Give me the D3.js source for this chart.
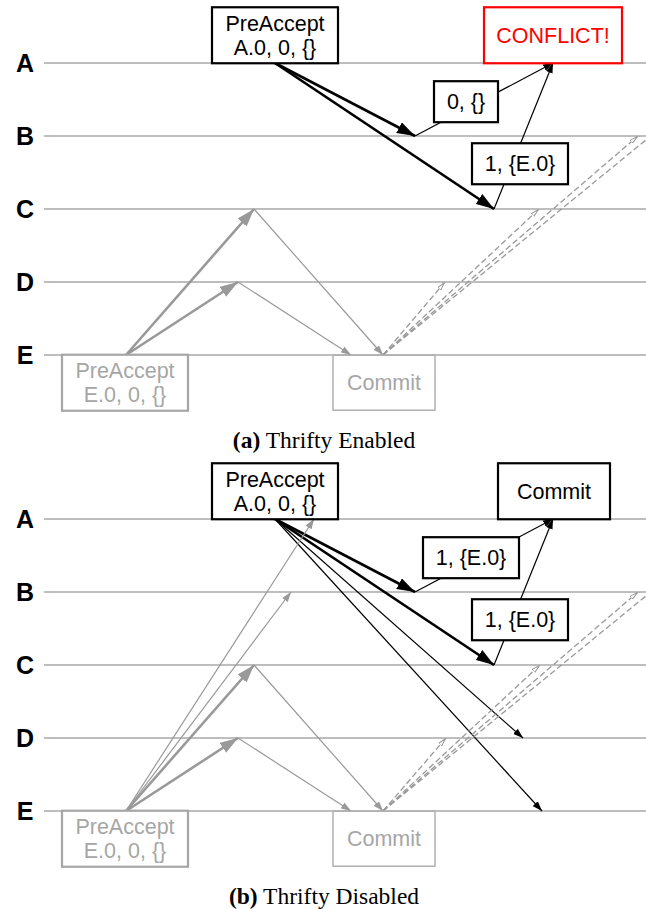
<!DOCTYPE html>
<html>
<head>
<meta charset="utf-8">
<script src="https://cdn.jsdelivr.net/npm/d3@7"></script>
<style>
  body { margin: 0; background: #fff; }
  svg { display: block; }
</style>
</head>
<body>
<div id="chart"></div>
<script>
// Lanes (replicas) and panel captions
const lanes = ["A", "B", "C", "D", "E"];
const captions = [["(a)", " Thrifty Enabled"], ["(b)", " Thrifty Disabled"]];

// Messages: time on the x axis, lane on the y axis
// kind: thick / thin / dash, tone: black / gray
const msgsEnabled = [
  { from: "A", t0: 275, to: "B", t1: 415, kind: "thick", tone: "black" },
  { from: "A", t0: 275, to: "C", t1: 494, kind: "thick", tone: "black" },
  { from: "B", t0: 415, to: "A", t1: 553, kind: "thin",  tone: "black" },
  { from: "C", t0: 494, to: "A", t1: 553, kind: "thin",  tone: "black" },
  { from: "E", t0: 126, to: "C", t1: 254, kind: "thick", tone: "gray" },
  { from: "E", t0: 126, to: "D", t1: 238, kind: "thick", tone: "gray" },
  { from: "C", t0: 254, to: "E", t1: 383, kind: "thin",  tone: "gray" },
  { from: "D", t0: 238, to: "E", t1: 351, kind: "thin",  tone: "gray" },
  { from: "E", t0: 383, to: "D", t1: 445, kind: "dash",  tone: "gray" },
  { from: "E", t0: 383, to: "C", t1: 539, kind: "dash",  tone: "gray" },
  { from: "E", t0: 383, to: "B", t1: 638, kind: "dash",  tone: "gray" },
  { from: "E", t0: 383, to: "A", t1: 740, kind: "dash",  tone: "gray" }
];

const msgsDisabled = [
  { from: "A", t0: 275, to: "B", t1: 415, kind: "thick", tone: "black" },
  { from: "A", t0: 275, to: "C", t1: 494, kind: "thick", tone: "black" },
  { from: "A", t0: 275, to: "D", t1: 523, kind: "thin",  tone: "black" },
  { from: "A", t0: 275, to: "E", t1: 542, kind: "thin",  tone: "black" },
  { from: "B", t0: 415, to: "A", t1: 553, kind: "thin",  tone: "black" },
  { from: "C", t0: 494, to: "A", t1: 553, kind: "thin",  tone: "black" },
  { from: "E", t0: 126, to: "A", t1: 314, kind: "thin",  tone: "gray" },
  { from: "E", t0: 126, to: "B", t1: 291, kind: "thin",  tone: "gray" },
  { from: "E", t0: 126, to: "C", t1: 254, kind: "thick", tone: "gray" },
  { from: "E", t0: 126, to: "D", t1: 238, kind: "thick", tone: "gray" },
  { from: "C", t0: 254, to: "E", t1: 383, kind: "thin",  tone: "gray" },
  { from: "D", t0: 238, to: "E", t1: 351, kind: "thin",  tone: "gray" },
  { from: "E", t0: 383, to: "D", t1: 446, kind: "dash",  tone: "gray" },
  { from: "E", t0: 383, to: "C", t1: 540, kind: "dash",  tone: "gray" },
  { from: "E", t0: 383, to: "B", t1: 638, kind: "dash",  tone: "gray" },
  { from: "E", t0: 383, to: "A", t1: 740, kind: "dash",  tone: "gray" }
];

// Boxes: centre time t, lane position p (fractional lane index)
const boxesEnabled = [
  { lines: ["PreAccept", "A.0, 0, {}"], t: 275, p: -0.38, style: "black" },
  { lines: ["0, {}"],                   t: 466, p: 0.53,  style: "black-sm", w: 64 },
  { lines: ["1, {E.0}"],                t: 520, p: 1.38,  style: "black-sm", w: 96 },
  { lines: ["CONFLICT!"],               t: 553, p: -0.38, style: "red", w: 138 },
  { lines: ["PreAccept", "E.0, 0, {}"], t: 125, p: 4.38,  style: "gray" },
  { lines: ["Commit"],                  t: 384, p: 4.38,  style: "gray-thin", w: 102 }
];

const boxesDisabled = [
  { lines: ["PreAccept", "A.0, 0, {}"], t: 275, p: -0.38, style: "black" },
  { lines: ["1, {E.0}"],                t: 471, p: 0.53,  style: "black-sm", w: 96 },
  { lines: ["1, {E.0}"],                t: 520, p: 1.38,  style: "black-sm", w: 96 },
  { lines: ["Commit"],                  t: 554, p: -0.38, style: "black", w: 112 },
  { lines: ["PreAccept", "E.0, 0, {}"], t: 125, p: 4.38,  style: "gray" },
  { lines: ["Commit"],                  t: 384, p: 4.38,  style: "gray-thin", w: 102 }
];

const W = 646, H = 909;
const panelOffset = 456;
const tones = { black: "#000", gray: "#999" };

const x = d3.scaleLinear().domain([0, W]).range([0, W]);
const laneIdx = d3.scaleOrdinal().domain(lanes).range(d3.range(lanes.length));
const y = d3.scaleLinear().domain([0, 4]).range([63, 355]);

const svg = d3.select("#chart").append("svg")
  .attr("width", W).attr("height", H);

// Arrow markers
const defs = svg.append("defs");
function addMarker(id, color, len, wid, open) {
  defs.append("marker")
    .attr("id", id)
    .attr("markerUnits", "userSpaceOnUse")
    .attr("viewBox", `0 ${-wid / 2} ${len} ${wid}`)
    .attr("refX", len).attr("refY", 0)
    .attr("markerWidth", len).attr("markerHeight", wid)
    .attr("orient", "auto")
    .append("path")
      .attr("d", `M0,${-wid / 2 + (open ? 1 : 0)}L${len - (open ? 1 : 0)},0L0,${wid / 2 - (open ? 1 : 0)}Z`)
      .attr("fill", open ? "#fff" : color)
      .attr("stroke", open ? color : "none")
      .attr("stroke-width", 1);
}
addMarker("thick-black", "#000", 18, 12, false);
addMarker("thin-black", "#000", 10, 7, false);
addMarker("thick-gray", "#999", 18, 12, false);
addMarker("thin-gray", "#999", 10, 7, false);
addMarker("dash-gray", "#999", 9, 6, true);

const widths = { thick: 2.6, thin: 1.2, dash: 1.3 };

const boxStyles = {
  "black":     { stroke: "#000", text: "#000", sw: 2.2, h: 56, w: 126 },
  "black-sm":  { stroke: "#000", text: "#000", sw: 2.2, h: 41, w: 96 },
  "red":       { stroke: "#f00", text: "#f00", sw: 2.2, h: 56, w: 138 },
  "gray":      { stroke: "#a6a6a6", text: "#a6a6a6", sw: 2.2, h: 56, w: 126 },
  "gray-thin": { stroke: "#b0b0b0", text: "#a6a6a6", sw: 1.5, h: 55, w: 102 }
};

function drawPanel(g, msgs, boxes, caption) {
  // lane lines
  g.selectAll(".lane")
    .data(lanes)
    .join("line")
      .attr("class", "lane")
      .attr("x1", x(44)).attr("x2", x(W))
      .attr("y1", d => y(laneIdx(d))).attr("y2", d => y(laneIdx(d)))
      .attr("stroke", "#a8a8a8")
      .attr("stroke-width", 1.3);

  g.selectAll(".lane-label")
    .data(lanes)
    .join("text")
      .attr("class", "lane-label")
      .attr("x", 25)
      .attr("y", d => y(laneIdx(d)))
      .attr("dy", "0.36em")
      .attr("text-anchor", "middle")
      .style("font-family", "'Liberation Sans', Arial, sans-serif")
      .style("font-weight", "bold")
      .style("font-size", "25px")
      .text(d => d);

  // messages
  g.selectAll(".msg")
    .data(msgs)
    .join("line")
      .attr("class", "msg")
      .attr("x1", d => x(d.t0)).attr("y1", d => y(laneIdx(d.from)))
      .attr("x2", d => x(d.t1)).attr("y2", d => y(laneIdx(d.to)))
      .attr("stroke", d => tones[d.tone])
      .attr("stroke-width", d => widths[d.kind])
      .attr("stroke-dasharray", d => d.kind === "dash" ? "6,3" : null)
      .attr("marker-end", d => `url(#${d.kind}-${d.tone})`);

  // boxes
  const bx = g.selectAll(".box")
    .data(boxes)
    .join("g")
      .attr("class", "box")
      .attr("transform", d => `translate(${x(d.t)},${y(d.p)})`);

  bx.append("rect")
    .attr("x", d => -(d.w || boxStyles[d.style].w) / 2)
    .attr("y", d => -boxStyles[d.style].h / 2)
    .attr("width", d => d.w || boxStyles[d.style].w)
    .attr("height", d => boxStyles[d.style].h)
    .attr("fill", "#fff")
    .attr("stroke", d => boxStyles[d.style].stroke)
    .attr("stroke-width", d => boxStyles[d.style].sw);

  bx.each(function(d) {
    const n = d.lines.length;
    d3.select(this).selectAll("text")
      .data(d.lines)
      .join("text")
        .attr("x", 0)
        .attr("y", (l, i) => (i - (n - 1) / 2) * 24)
        .attr("dy", "0.36em")
        .attr("text-anchor", "middle")
        .style("font-family", "'Liberation Sans', Arial, sans-serif")
        .style("font-size", "21.5px")
        .attr("fill", boxStyles[d.style].text)
        .text(l => l);
  });

  // caption
  const cap = g.append("text")
    .attr("x", 324).attr("y", 448)
    .attr("text-anchor", "middle")
    .style("font-family", "'Liberation Serif', 'Times New Roman', serif")
    .style("font-size", "23.5px");
  cap.append("tspan").style("font-weight", "bold").text(caption[0]);
  cap.append("tspan").text(caption[1]);
}

const gA = svg.append("g");
drawPanel(gA, msgsEnabled, boxesEnabled, captions[0]);

const gB = svg.append("g").attr("transform", `translate(0,${panelOffset})`);
drawPanel(gB, msgsDisabled, boxesDisabled, captions[1]);
</script>
</body>
</html>
